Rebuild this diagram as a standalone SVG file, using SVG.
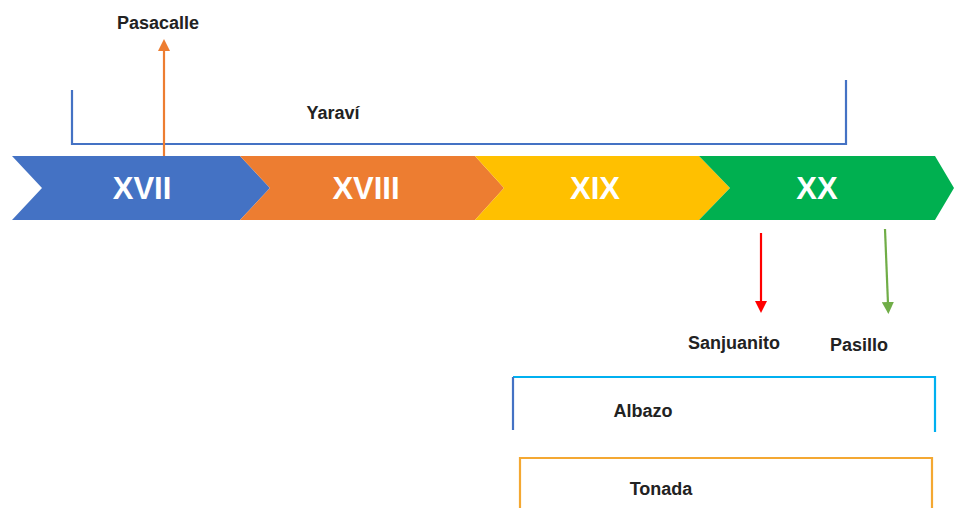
<svg xmlns="http://www.w3.org/2000/svg" width="954" height="508" viewBox="0 0 954 508">
<defs>
<style>
.num{font-family:"Liberation Sans",Arial,sans-serif;font-weight:bold;font-size:31px;fill:#fff;text-anchor:middle}
.lbl{font-family:"Liberation Sans",Arial,sans-serif;font-weight:bold;font-size:18px;fill:#222;text-anchor:middle}
.br{fill:none;stroke-width:2.2}
</style>
<marker id="ao" markerWidth="12" markerHeight="12" refX="2" refY="6" orient="auto" markerUnits="userSpaceOnUse"><path d="M0,0 L12,6 L0,12 z" fill="#ED7D31"/></marker>
<marker id="ar" markerWidth="12" markerHeight="12" refX="2" refY="6" orient="auto" markerUnits="userSpaceOnUse"><path d="M0,0 L12,6 L0,12 z" fill="#FF0000"/></marker>
<marker id="ag" markerWidth="12" markerHeight="12" refX="2" refY="6" orient="auto" markerUnits="userSpaceOnUse"><path d="M0,0 L12,6 L0,12 z" fill="#70AD47"/></marker>
</defs>
<rect width="954" height="508" fill="#fff"/>
<g id="xvii"><path d="M12,156 L240,156 L270,188 L240,220 L12,220 L42,188 z" fill="#4472C4"/><text class="num" x="142" y="199">XVII</text></g>
<g id="xviii"><path d="M240,156 L475,156 L504,188 L475,220 L240,220 L270,188 z" fill="#ED7D31"/><text class="num" x="366" y="199">XVIII</text></g>
<g id="xix"><path d="M475,156 L699,156 L730,188 L699,220 L475,220 L504,188 z" fill="#FFC000"/><text class="num" x="595" y="199">XIX</text></g>
<g id="xx"><path d="M699,156 L935,156 L954,188 L935,220 L699,220 L730,188 z" fill="#00B050"/><text class="num" x="817" y="199">XX</text></g>
<g id="yaravi"><path class="br" d="M72,90 L72,144 L846,144 L846,80" stroke="#4472C4"/><text class="lbl" x="333" y="119">Yaraví</text></g>
<g id="albazo"><path class="br" d="M513,377 L935,377 L935,432" stroke="#00B0F0"/><path class="br" d="M513,377 L513,430" stroke="#4472C4"/><text class="lbl" x="643" y="417">Albazo</text></g>
<g id="tonada"><path class="br" d="M520,508 L520,458 L932,458 L932,508" stroke="#F4A832"/><text class="lbl" x="661" y="495">Tonada</text></g>
<g id="pasacalle"><text class="lbl" x="158" y="29">Pasacalle</text></g>
<g id="sanjuanito"><text class="lbl" x="734" y="349">Sanjuanito</text></g>
<g id="pasillo"><text class="lbl" x="859" y="351">Pasillo</text></g>
<g id="connectors">
<line x1="164" y1="156" x2="164" y2="49" stroke="#ED7D31" stroke-width="2.2" marker-end="url(#ao)"/>
<line x1="761" y1="233" x2="761" y2="303" stroke="#FF0000" stroke-width="2.2" marker-end="url(#ar)"/>
<line x1="885" y1="229" x2="888" y2="304" stroke="#70AD47" stroke-width="2.2" marker-end="url(#ag)"/>
</g>
</svg>
